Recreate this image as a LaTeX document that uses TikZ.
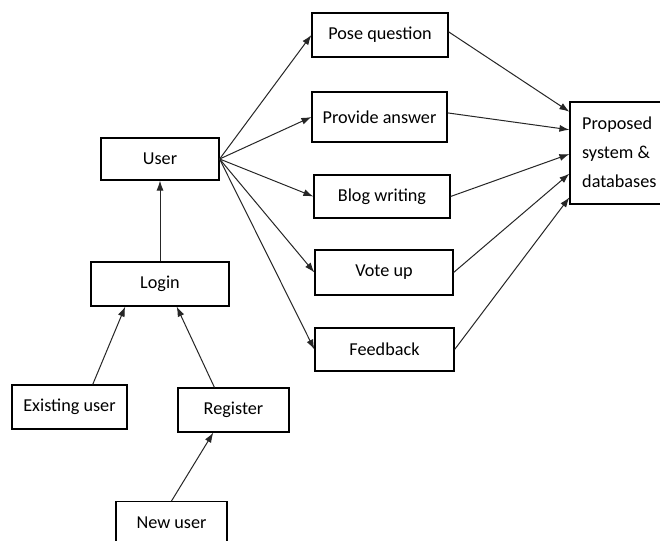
\documentclass[tikz,border=0pt]{standalone}
\usepackage{fontspec}
\setmainfont{Carlito}
\usetikzlibrary{arrows.meta,calc}
\tikzset{
  txt/.style={font=\fontsize{18.2}{29}\selectfont},
  box/.style={draw=black, line width=1.2pt, inner sep=0pt, align=center, txt},
  conn/.style={draw=black!85, line width=1pt, -{Latex[length=10pt,width=7pt]}}
}
\begin{document}
\begin{tikzpicture}[x=1pt,y=-1pt]
\clip (0,0) rectangle (660,540);
\fill[white] (0,0) rectangle (660,540);
% nodes
\node[box, minimum width=118pt, minimum height=42pt] (user) at (160,159) {User};
\node[box, minimum width=138pt, minimum height=44pt] (login) at (160,284) {Login};
\node[box, minimum width=115pt, minimum height=44pt] (exist) at (69.5,407) {Existing user};
\node[box, minimum width=111pt, minimum height=44pt] (reg) at (233.5,410) {Register};
\node[box, minimum width=111pt, minimum height=48pt, anchor=north] (new) at (171.5,501) {};
\node[txt] (newt) at (171.5,523) {New user};
\node[box, minimum width=136pt, minimum height=44pt] (pose) at (380,35) {Pose question};
\node[box, minimum width=135pt, minimum height=50pt] (prov) at (379.5,117) {Provide answer};
\node[box, minimum width=136pt, minimum height=43pt] (blog) at (382,196.5) {Blog writing};
\node[box, minimum width=138pt, minimum height=45pt] (vote) at (384,272.5) {Vote up};
\node[box, minimum width=139pt, minimum height=43pt] (feed) at (384.5,349.5) {Feedback};
\node[box, minimum width=92pt, minimum height=102pt] (prop) at (616,153) {};
\node[txt, align=left, anchor=west, inner sep=0pt] (propt) at (582,152) {Proposed\\system \&\\databases};
% connectors
\draw[conn] (login.north) -- (user.south);
\draw[conn] ($(exist.north west)!0.70!(exist.north east)$) -- ($(login.south west)!0.25!(login.south east)$);
\draw[conn] ($(reg.north west)!0.33!(reg.north east)$) -- ($(login.south west)!0.62!(login.south east)$);
\draw[conn] (new.north) -- ($(reg.south west)!0.32!(reg.south east)$);
\draw[conn] (user.east) -- (pose.west);
\draw[conn] (user.east) -- (prov.west);
\draw[conn] (user.east) -- (blog.west);
\draw[conn] (user.east) -- (vote.west);
\draw[conn] (user.east) -- (feed.west);
\draw[conn] ($(pose.north east)!0.43!(pose.south east)$) -- ($(prop.north west)!0.10!(prop.south west)$);
\draw[conn] ($(prov.north east)!0.42!(prov.south east)$) -- ($(prop.north west)!0.275!(prop.south west)$);
\draw[conn] (blog.east) -- ($(prop.north west)!0.51!(prop.south west)$);
\draw[conn] (vote.east) -- ($(prop.north west)!0.70!(prop.south west)$);
\draw[conn] (feed.east) -- ($(prop.north west)!0.93!(prop.south west)$);
\end{tikzpicture}
\end{document}
